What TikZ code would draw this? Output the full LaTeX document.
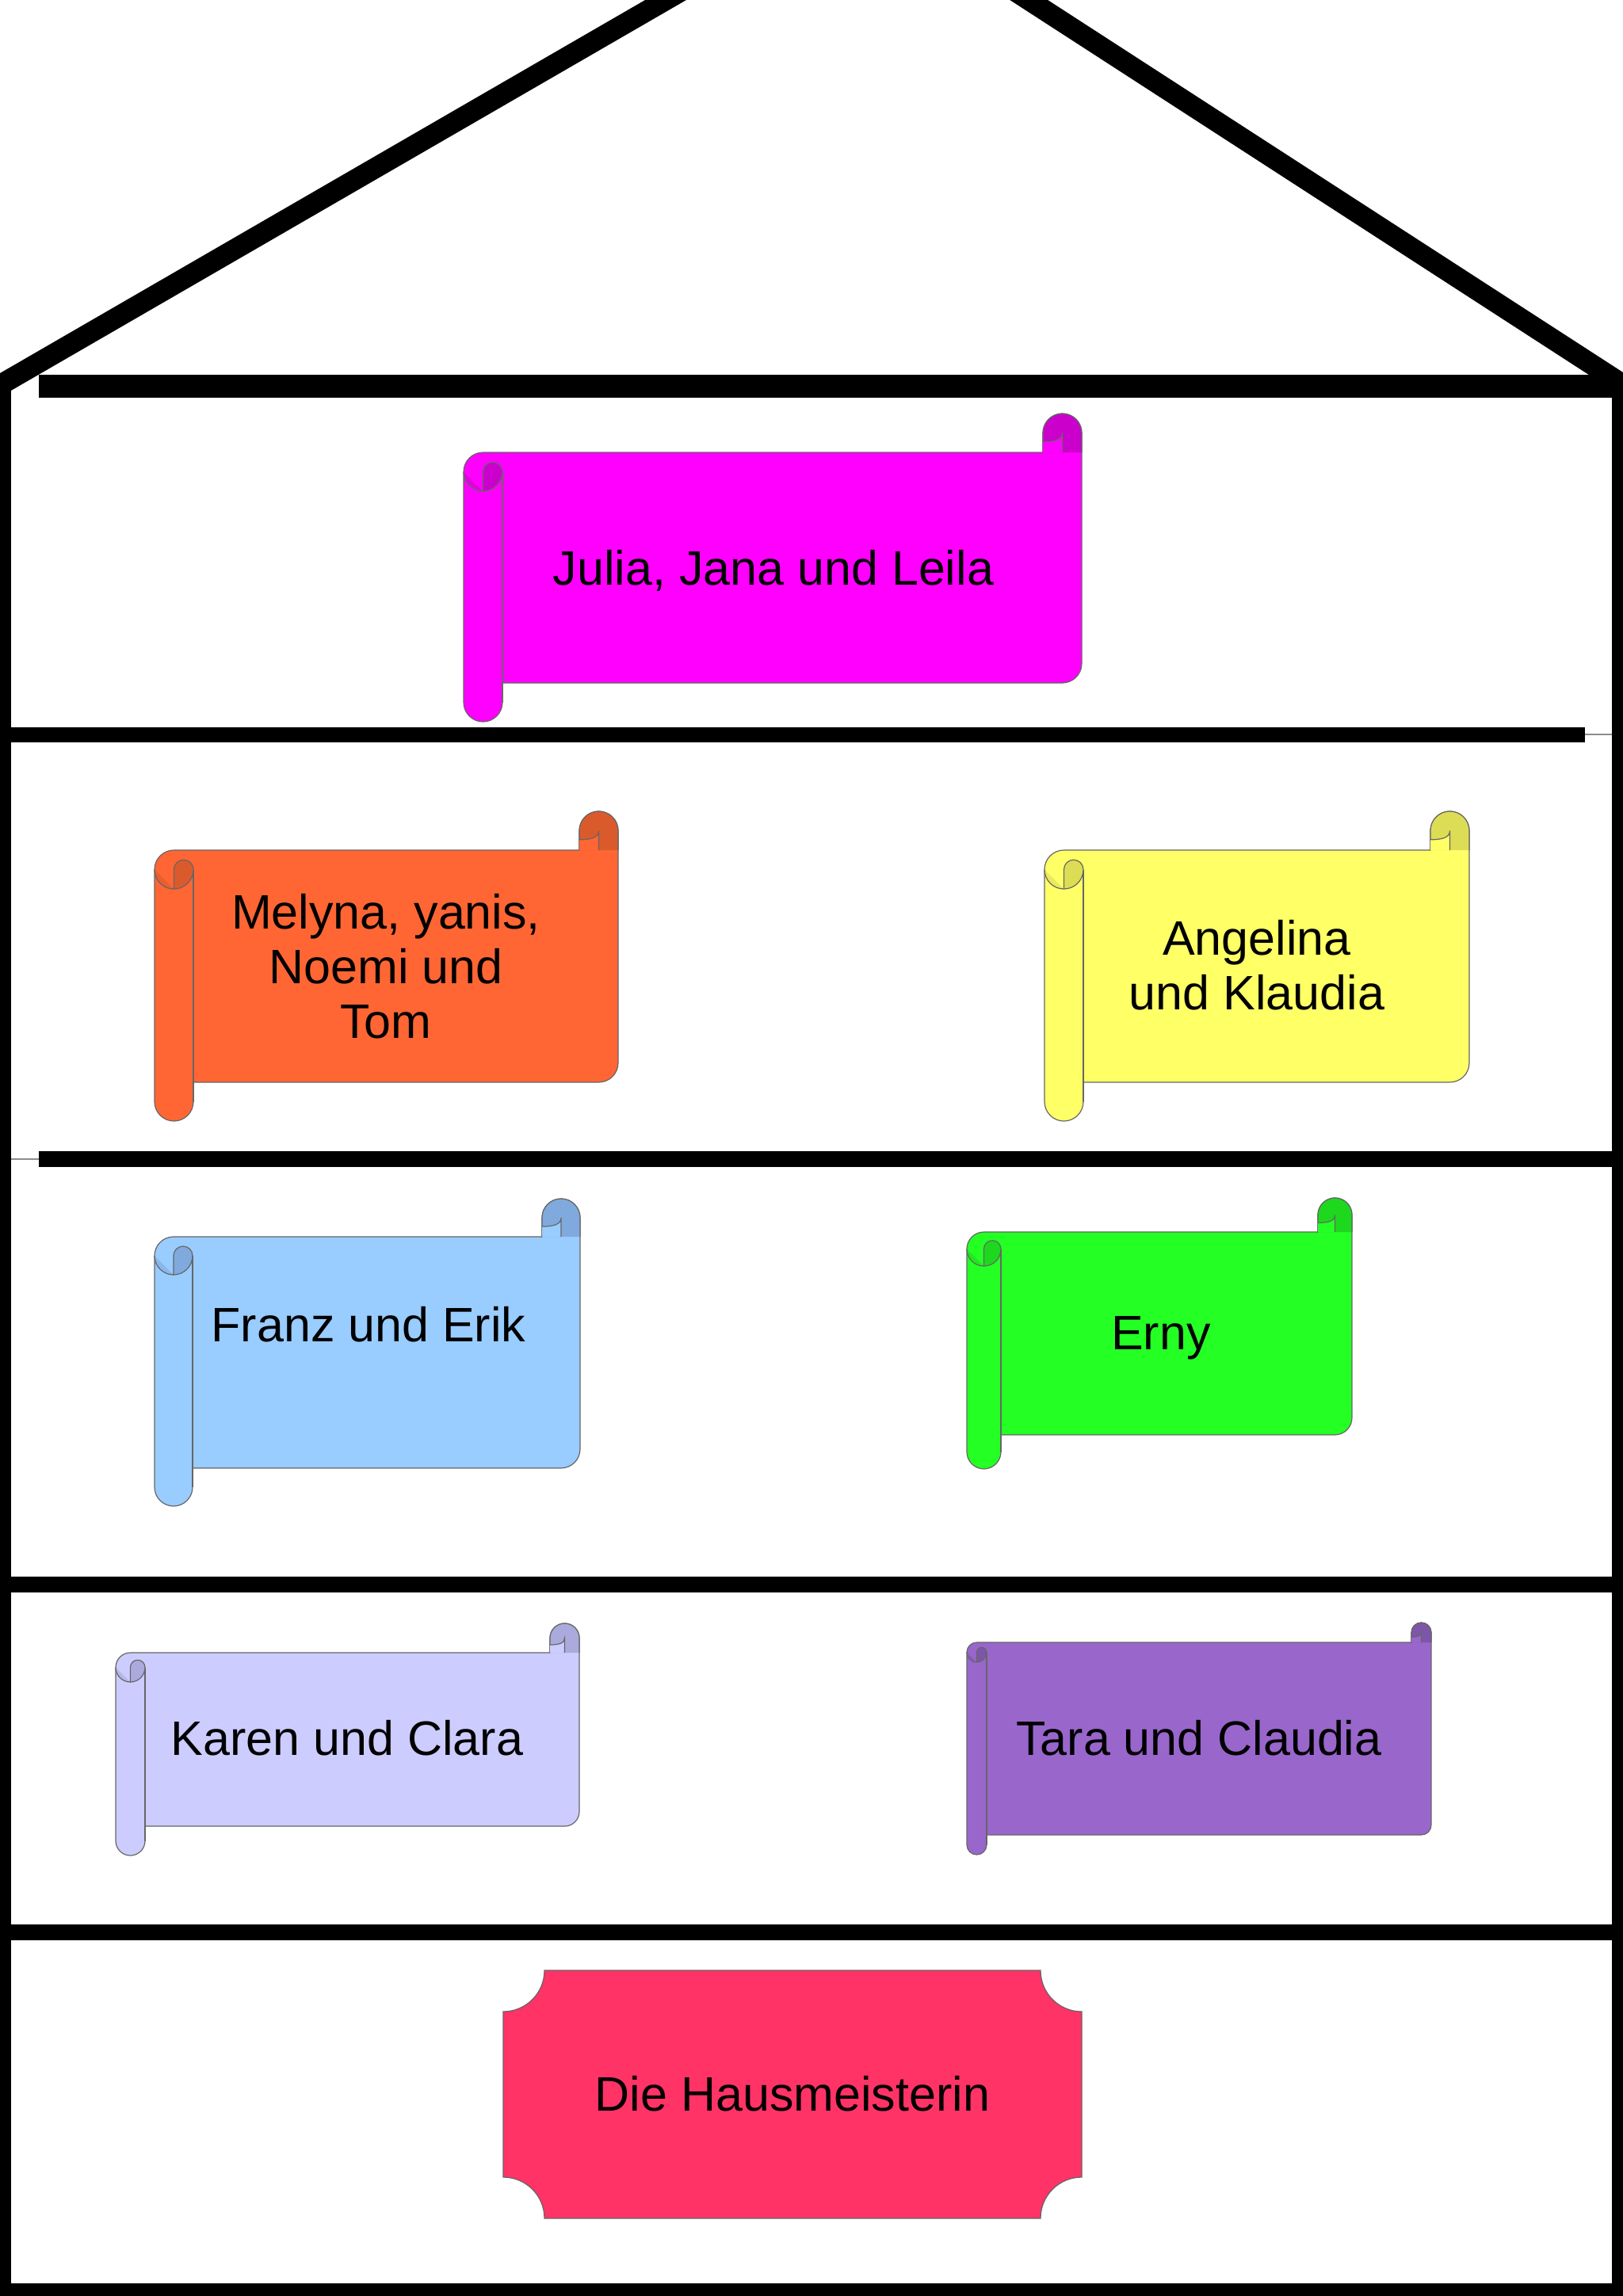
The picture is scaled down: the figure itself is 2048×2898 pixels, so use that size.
\documentclass[tikz,border=0pt]{standalone}
\usepackage{fontspec}
\setmainfont{Liberation Sans}
\definecolor{cMag}{HTML}{FF00FF}\definecolor{dMag}{HTML}{CC00CC}
\definecolor{cOra}{HTML}{FF6633}\definecolor{dOra}{HTML}{DB5A2C}
\definecolor{cYel}{HTML}{FFFF66}\definecolor{dYel}{HTML}{DDDD55}
\definecolor{cBlu}{HTML}{99CCFF}\definecolor{dBlu}{HTML}{80AADD}
\definecolor{cGre}{HTML}{24FF24}\definecolor{dGre}{HTML}{1ED81E}
\definecolor{cLav}{HTML}{CCCCFF}\definecolor{dLav}{HTML}{AAAADD}
\definecolor{cPur}{HTML}{9966CC}\definecolor{dPur}{HTML}{7F55AA}
\definecolor{cPla}{HTML}{FF3366}
\tikzset{
  scrollline/.style={draw=black!60, line width=0.6pt},
  roofline/.style={draw=black, line width=13pt, line cap=butt},
  wallline/.style={draw=black, line width=7pt, line cap=butt},
  floorline/.style={draw=black, line width=10pt, line cap=butt},
  hairline/.style={draw=black!45, line width=0.6pt},
  lbl/.style={font=\fontsize{30.5}{34.5}\selectfont, inner sep=0pt, text=black},
}
\newcommand\drawscroll[7]{%
  \pgfmathsetmacro\zzL{#1}\pgfmathsetmacro\zzT{#2}\pgfmathsetmacro\zzR{#3}%
  \pgfmathsetmacro\zzB{#4}\pgfmathsetmacro\zzw{#5}%
  \pgfmathsetmacro\zzh{#5/2}\pgfmathsetmacro\zzq{#5/4}%
  \filldraw[scrollline, fill=#6] (\zzL,{\zzT+\zzh}) arc[start angle=180,end angle=270,radius=\zzh]
    -- ({\zzR-\zzw},\zzT) -- ({\zzR-\zzw},{\zzT-\zzh}) arc[start angle=180,end angle=360,radius=\zzh]
    -- (\zzR,{\zzB-\zzh}) arc[start angle=0,end angle=90,radius=\zzh]
    -- ({\zzL+\zzw},\zzB) -- ({\zzL+\zzw},{\zzB+\zzh}) arc[start angle=0,end angle=180,radius=\zzh] -- cycle;
  \fill[#7] ({\zzR-\zzw},\zzT) -- ({\zzR-\zzw},{\zzT-\zzh}) arc[start angle=180,end angle=360,radius=\zzh] -- (\zzR,\zzT) -- cycle;
  \draw[scrollline] ({\zzR-\zzw},\zzT) -- ({\zzR-\zzw},{\zzT-\zzh}) arc[start angle=180,end angle=360,radius=\zzh] -- (\zzR,\zzT);
  \fill[#6] ({\zzR-\zzw},\zzT) -- ({\zzR-\zzw},{\zzT-0.27*\zzw}) .. controls ({\zzR-0.68*\zzw},{\zzT-0.27*\zzw}) and ({\zzR-\zzh},{\zzT-0.33*\zzw}) .. ({\zzR-\zzh},{\zzT-\zzh}) -- ({\zzR-\zzh},\zzT) -- cycle;
  \draw[scrollline] ({\zzR-\zzw},{\zzT-0.27*\zzw}) .. controls ({\zzR-0.68*\zzw},{\zzT-0.27*\zzw}) and ({\zzR-\zzh},{\zzT-0.33*\zzw}) .. ({\zzR-\zzh},{\zzT-\zzh}) -- ({\zzR-\zzh},\zzT);
  \draw[scrollline] ({\zzL+\zzw},{\zzT+\zzh}) -- ({\zzL+\zzw},{\zzB+\zzh});
  \fill[#7, opacity=0.6] (\zzL,{\zzT+\zzh}) arc[start angle=180,end angle=90,radius=\zzh] -- cycle;
  \draw[scrollline] (\zzL,{\zzT+\zzh}) arc[start angle=180,end angle=90,radius=\zzh];
  \filldraw[scrollline, fill=#7] ({\zzL+\zzh},{\zzT+\zzw}) -- ({\zzL+\zzh},{\zzT+\zzh})
    arc[start angle=180,end angle=360,radius=\zzq] arc[start angle=0,end angle=90,radius=\zzh] -- cycle;
}
\begin{document}
\begin{tikzpicture}[x=0.5pt,y=-0.5pt]
\useasboundingbox (0,0) rectangle (2048,2898);
\fill[white] (0,0) rectangle (2048,2898);
\begin{scope}
  \clip (0,0) rectangle (2048,2898);
  % roof
  \draw[roofline] (-30,503.4) -- (1082,-140) -- (2080,506.2);
  % walls
  \draw[wallline] (7,480) -- (7,2898);
  \draw[wallline] (2041,488) -- (2041,2898);
  % floors
  \draw[floorline, line width=14.5pt] (49,487.5) -- (2048,487.5);
  \draw[floorline, line width=9.5pt] (0,927) -- (2000,927);
  \draw[hairline] (2000,927) -- (2034,927);
  \draw[floorline] (49,1463) -- (2048,1463);
  \draw[hairline] (14,1463) -- (49,1463);
  \draw[floorline] (0,2000) -- (2048,2000);
  \draw[floorline] (0,2439) -- (2048,2439);
  \draw[floorline] (0,2892) -- (2048,2892);
\end{scope}
% scrolls
\drawscroll{585}{571}{1365}{862}{49}{cMag}{dMag}
\drawscroll{195}{1073}{780}{1366}{49}{cOra}{dOra}
\drawscroll{1318}{1073}{1854}{1366}{49}{cYel}{dYel}
\drawscroll{195}{1561}{732}{1853}{48}{cBlu}{dBlu}
\drawscroll{1220}{1555}{1706}{1811}{43}{cGre}{dGre}
\drawscroll{146}{2086}{731}{2305}{37}{cLav}{dLav}
\drawscroll{1220}{2073}{1806}{2316}{25}{cPur}{dPur}
% plaque
\filldraw[scrollline, fill=cPla] (687,2487) -- (1313,2487)
  arc[start angle=180,end angle=90,radius=52] -- (1365,2748)
  arc[start angle=270,end angle=180,radius=52] -- (687,2800)
  arc[start angle=0,end angle=-90,radius=52] -- (635,2539)
  arc[start angle=90,end angle=0,radius=52] -- cycle;
% labels
\node[lbl, anchor=base] (t1) at (976,738) {Julia, Jana und Leila};
\node[lbl, anchor=north, align=center] (t2) at (487,1128.3) {Melyna, yanis,\\Noemi und\\Tom};
\node[lbl, anchor=north, align=center] (t3) at (1586,1161.3) {Angelina\\und Klaudia};
\node[lbl, anchor=base] (t4) at (465,1693) {Franz und Erik};
\node[lbl, anchor=base] (t5) at (1465,1703) {Erny};
\node[lbl, anchor=base] (t6) at (438,2215) {Karen und Clara};
\node[lbl, anchor=base] (t7) at (1513,2215) {Tara und Claudia};
\node[lbl, anchor=base] (t8) at (1000,2664) {Die Hausmeisterin};
\end{tikzpicture}
\end{document}
